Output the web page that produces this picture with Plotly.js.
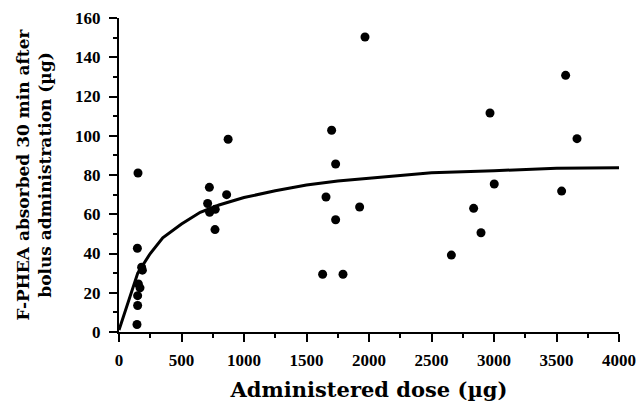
<!DOCTYPE html>
<html>
<head>
<meta charset="utf-8">
<script src="https://cdn.plot.ly/plotly-3.0.1.min.js"></script>
<style>html,body{margin:0;padding:0;background:#fff;}#chart{width:640px;height:402px;}</style>
</head>
<body>
<div id="chart"></div>
<script>
// Observed data: administered dose (µg) vs F-PHEA absorbed (µg)
const doseObserved = [152, 147, 181, 187, 155, 168, 149, 149, 144,
  723, 709, 725, 770, 768, 861, 873,
  1629, 1656, 1701, 1733, 1733, 1792, 1925, 1968,
  2659, 2837, 2896, 2968, 3002, 3541, 3573, 3664];
const absorbedObserved = [81, 42.7, 33, 31.5, 24.5, 22.5, 18.5, 13.5, 3.8,
  73.7, 65.5, 61, 62.5, 52.2, 70, 98.2,
  29.4, 68.8, 102.8, 85.6, 57.2, 29.4, 63.7, 150.3,
  39.2, 63, 50.6, 111.6, 75.4, 71.8, 130.8, 98.5];

// Fitted curve
const doseFit = [0, 50, 100, 150, 250, 350, 500, 650, 800, 1000, 1250, 1500, 1750, 2000, 2250, 2500, 3000, 3500, 4000];
const absorbedFit = [1, 11, 21, 30, 40, 48, 55, 61, 64.7, 68.5, 72, 74.9, 77, 78.5, 80, 81.2, 82.2, 83.4, 83.7];

const xTitle = 'Administered dose (µg)';
const yTitle = 'F-PHEA absorbed 30 min after<br>bolus administration (µg)';

const tickFont = {family: 'Liberation Serif, serif', size: 17, color: '#000', weight: 'bold'};
const xTitleFont = {family: 'DejaVu Serif, serif', size: 21, color: '#000', weight: 'bold'};
const yTitleFont = {family: 'DejaVu Serif, serif', size: 17, color: '#000', weight: 'bold'};

const traces = [
  {x: doseFit, y: absorbedFit, mode: 'lines', line: {color: '#000', width: 3}, hoverinfo: 'skip'},
  {x: doseObserved, y: absorbedObserved, mode: 'markers', marker: {color: '#000', size: 9}}
];

const layout = {
  width: 640, height: 402,
  margin: {l: 119, r: 21, t: 18, b: 70},
  paper_bgcolor: '#fff', plot_bgcolor: '#fff',
  showlegend: false,
  xaxis: {
    range: [0, 4000], dtick: 500, tick0: 0,
    showgrid: false, zeroline: false,
    showline: true, linecolor: '#000', linewidth: 2,
    ticks: 'outside', ticklen: 8, tickwidth: 2, tickcolor: '#000',
    minor: {dtick: 250, ticks: 'outside', ticklen: 4, tickwidth: 2, tickcolor: '#000', showgrid: false},
    tickfont: tickFont, ticklabelstandoff: 4,
    title: {text: xTitle, font: xTitleFont, standoff: 15}
  },
  yaxis: {
    range: [0, 160], dtick: 20, tick0: 0,
    showgrid: false, zeroline: false,
    showline: true, linecolor: '#000', linewidth: 2,
    ticks: 'outside', ticklen: 8, tickwidth: 2, tickcolor: '#000',
    minor: {dtick: 10, ticks: 'outside', ticklen: 4, tickwidth: 2, tickcolor: '#000', showgrid: false},
    tickfont: tickFont, ticklabelstandoff: 5,
    title: {text: yTitle, font: yTitleFont, standoff: 19}
  }
};

Plotly.newPlot('chart', traces, layout, {displayModeBar: false, staticPlot: true});
</script>
</body>
</html>
